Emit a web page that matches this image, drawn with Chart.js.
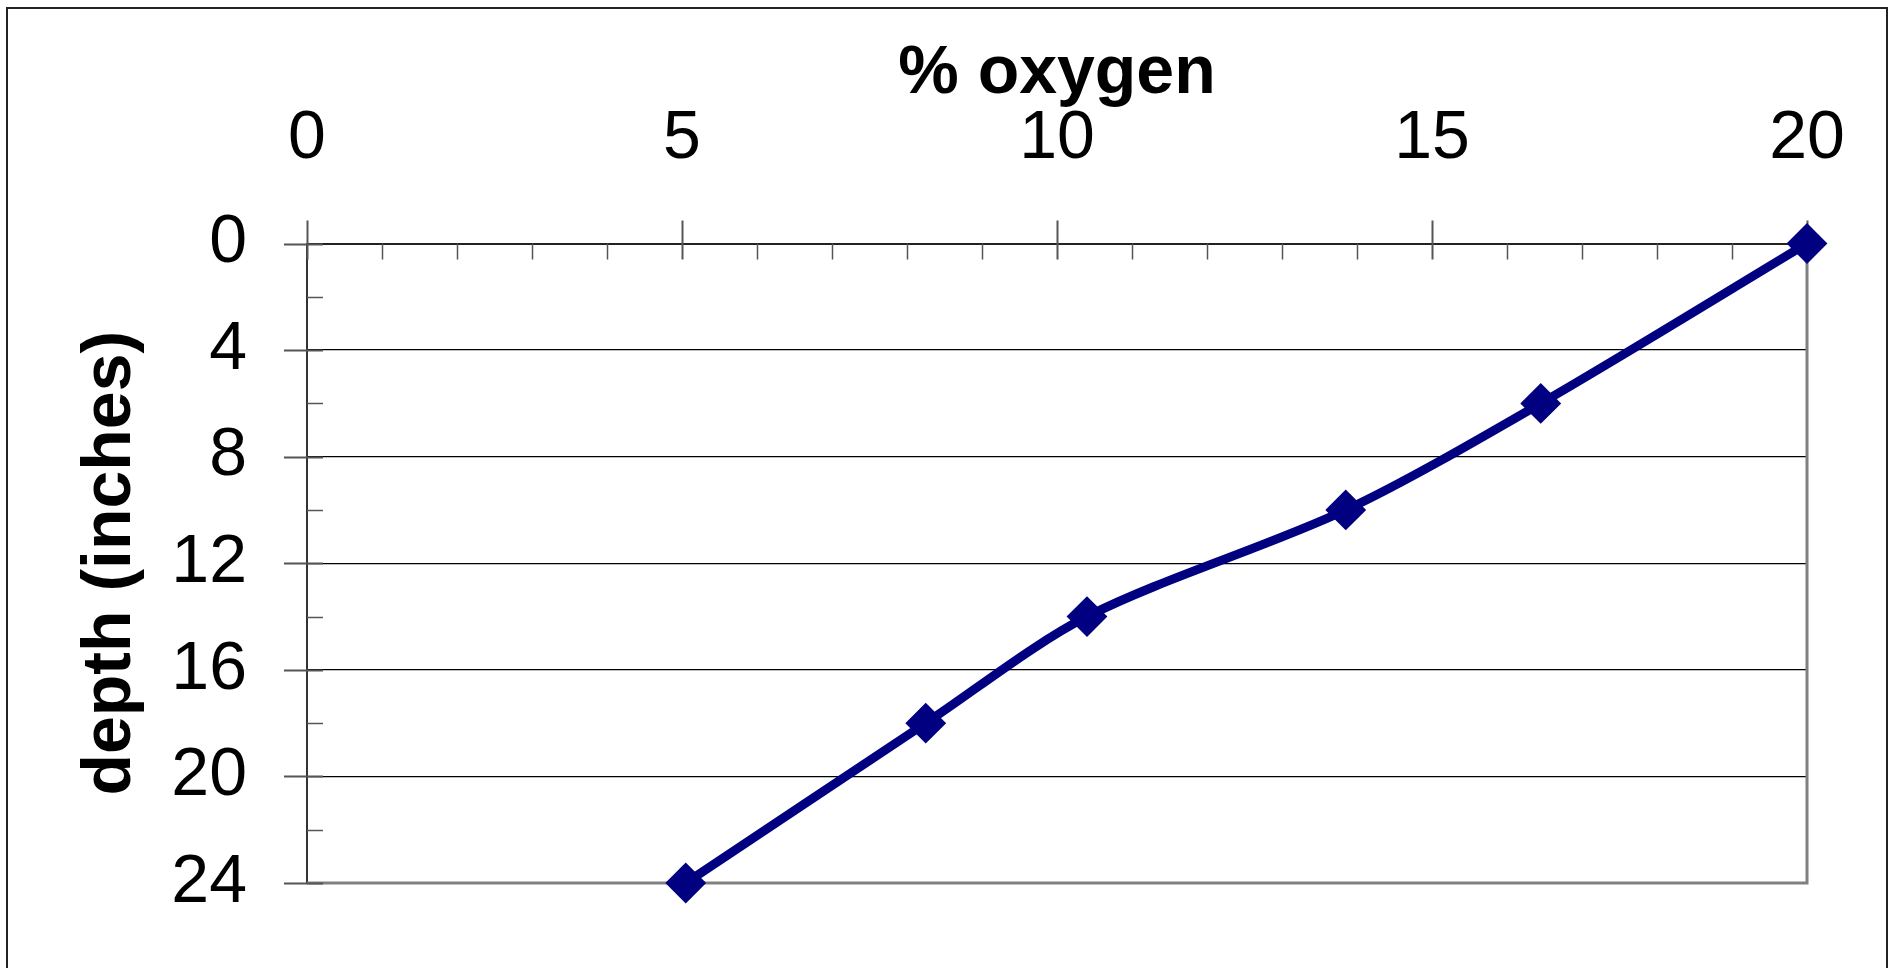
<!DOCTYPE html>
<html>
<head>
<meta charset="utf-8">
<script src="https://cdn.jsdelivr.net/npm/chart.js@4/dist/chart.umd.min.js"></script>
<style>
  html, body { margin: 0; padding: 0; background: #fff; }
  #wrap { position: relative; width: 1893px; height: 968px; }
</style>
</head>
<body>
<div id="wrap"><canvas id="oxyChart" width="1893" height="968"></canvas></div>
<script>
// values
const oxygen = [20, 16.45, 13.85, 10.4, 8.25, 5.05];   // % oxygen
const depth = [0, 6, 10, 14, 18, 24];                  // depth (inches)
const xTicks = [0, 5, 10, 15, 20];
const yTicks = [0, 4, 8, 12, 16, 20, 24];

const navy = '#000080';
Chart.defaults.font.family = '"Liberation Sans", Arial, sans-serif';
Chart.defaults.color = '#000';

// excel style tick marks (minor inside, major crossing) + frame
const excelFrame = {
    id: 'excelFrame',
    beforeDraw(chart) {
        const c = chart.ctx;
        c.save();
        c.strokeStyle = '#222';
        c.lineWidth = 2;
        c.strokeRect(7, 8, 1880, 1000);
        c.restore();
    },
    beforeDatasetsDraw(chart) {
        const c = chart.ctx;
        const a = chart.chartArea;
        const xs = chart.scales.x;
        const ys = chart.scales.y;
        c.save();
        // plot area border right / bottom
        c.strokeStyle = '#808080';
        c.lineWidth = 3;
        c.beginPath();
        c.moveTo(a.right, a.top);
        c.lineTo(a.right, a.bottom);
        c.lineTo(a.left, a.bottom);
        c.stroke();

        c.strokeStyle = '#555';
        for (let v = 0; v <= 20; v++) {
            const px = Math.round(xs.getPixelForValue(v)) + 0.5;
            const major = xTicks.includes(v);
            c.lineWidth = major ? 2 : 1.5;
            c.beginPath();
            c.moveTo(px, major ? a.top - 23 : a.top);
            c.lineTo(px, a.top + 16);
            c.stroke();
        }
        for (let v = 0; v <= 24; v += 2) {
            const py = Math.round(ys.getPixelForValue(v)) + 0.5;
            const major = yTicks.includes(v);
            c.lineWidth = major ? 2 : 1.5;
            c.beginPath();
            c.moveTo(major ? a.left - 23 : a.left, py);
            c.lineTo(a.left + 16, py);
            c.stroke();
        }
        c.restore();
    }
};

const ctx = document.getElementById('oxyChart').getContext('2d');
const oxyChart = new Chart(ctx, {
    type: 'scatter',
    plugins: [excelFrame],
    data: {
        datasets: [{
            label: 'depth',
            data: oxygen.map((o, i) => ({x: o, y: depth[i]})),
            showLine: true,
            borderColor: navy,
            backgroundColor: navy,
            borderWidth: 9,
            tension: 0.3,
            pointStyle: 'rectRot',
            pointRadius: 19,
            pointBorderWidth: 2,
            pointBorderColor: navy,
            pointBackgroundColor: navy,
            clip: false
        }]
    },
    options: {
        responsive: false,
        animation: false,
        layout: {
            padding: {left: 8, top: 8, right: 86, bottom: 85}
        },
        plugins: {
            legend: {display: false},
            tooltip: {enabled: false}
        },
        scales: {
            x: {
                type: 'linear',
                position: 'top',
                min: 0,
                max: 20,
                afterBuildTicks: s => { s.ticks = xTicks.map(v => ({value: v})); },
                afterFit: s => { s.height = 235.5; },
                ticks: {
                    padding: 0,
                    maxRotation: 0,
                    font: {size: 68}
                },
                // invisible tick marks only push the labels away from the axis
                grid: {drawOnChartArea: false, drawTicks: true, tickLength: 63, tickColor: 'rgba(0,0,0,0)'},
                border: {display: true, color: '#222', width: 2},
                title: {
                    display: true,
                    text: '% oxygen',
                    padding: {top: 25, bottom: 0},
                    font: {size: 68, weight: 'bold'}
                }
            },
            y: {
                type: 'linear',
                reverse: true,
                min: 0,
                max: 24,
                afterBuildTicks: s => { s.ticks = yTicks.map(v => ({value: v})); },
                afterFit: s => { s.width = 299; },
                ticks: {
                    padding: 0,
                    font: {size: 68}
                },
                grid: {
                    color: '#000',
                    lineWidth: 1.3,
                    drawTicks: true,
                    tickLength: 60,
                    tickColor: 'rgba(0,0,0,0)'
                },
                border: {display: true, color: '#333', width: 2},
                title: {
                    display: true,
                    text: 'depth (inches)',
                    padding: {top: 62, bottom: 0},
                    font: {size: 68, weight: 'bold'}
                }
            }
        }
    }
});
</script>
</body>
</html>
